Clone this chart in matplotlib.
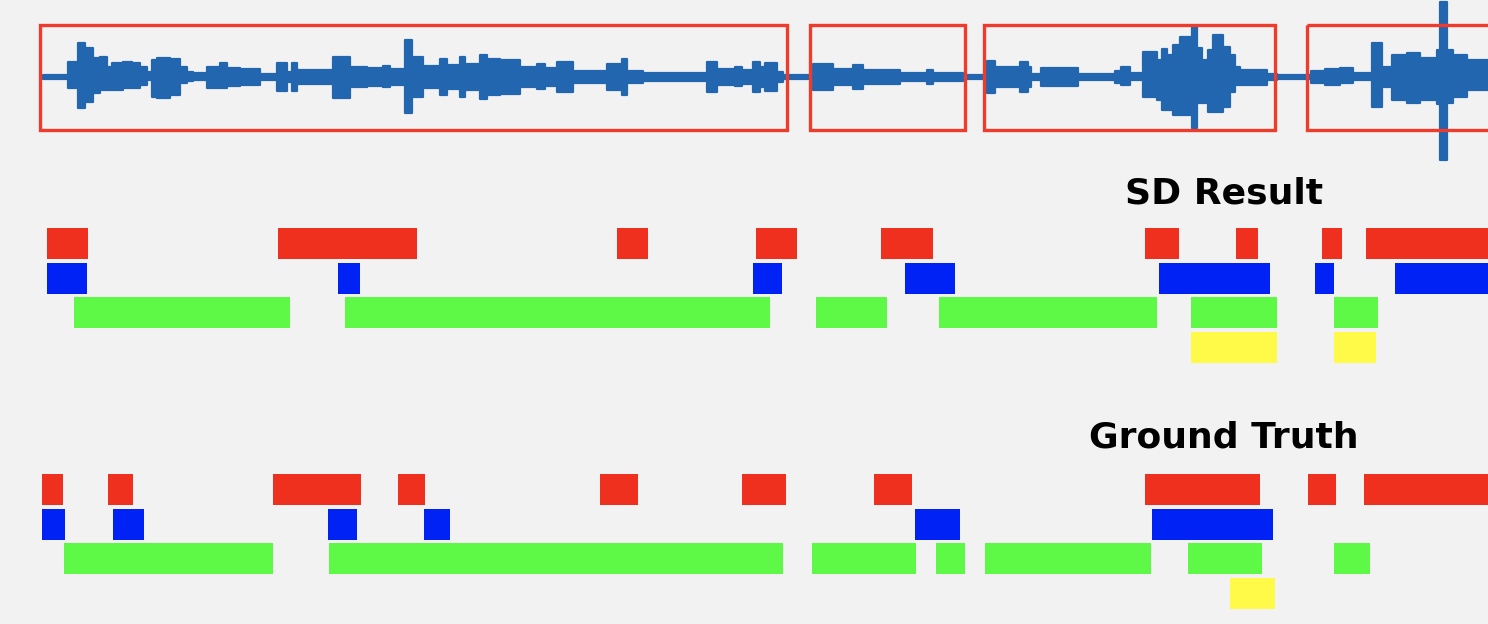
import numpy as np
import matplotlib
matplotlib.use('Agg')
import matplotlib.pyplot as plt
from matplotlib.patches import Rectangle

# time in seconds, whole picture spans 0 .. 14.88 s
# waveform envelope as plateaus: start time, upper amp, lower amp
wave_t = [0.43, 0.68, 0.78, 0.85, 0.93, 1.00, 1.07, 1.12, 1.23, 1.32, 1.40, 1.47, 1.52, 1.57,
          1.70, 1.80, 1.87, 1.93, 2.07, 2.20, 2.27, 2.40, 2.60, 2.77, 2.87, 2.92, 2.97, 3.33,
          3.50, 3.67, 3.83, 3.90, 4.05, 4.12, 4.23, 4.40, 4.47, 4.60, 4.65, 4.80, 4.87, 5.00,
          5.20, 5.37, 5.45, 5.57, 5.73, 6.07, 6.22, 6.27, 6.43, 7.07, 7.17, 7.35, 7.42, 7.53,
          7.60, 7.65, 7.77, 7.83, 8.13, 8.33, 8.53, 8.63, 9.00, 9.27, 9.33, 9.63, 9.87, 9.95,
          10.20, 10.28, 10.31, 10.41, 10.78, 11.15, 11.21, 11.30, 11.43, 11.57, 11.62, 11.67,
          11.73, 11.80, 11.92, 11.97, 12.02, 12.08, 12.13, 12.23, 12.30, 12.35, 12.40, 12.67,
          12.77, 13.11, 13.25, 13.40, 13.53, 13.72, 13.82, 13.92, 14.07, 14.20, 14.37, 14.40,
          14.47, 14.53, 14.67, 14.88]
wave_up = [2, 15, 34, 29, 19, 20, 10, 14, 15, 14, 10, 5, 17, 19,
           18, 10, 5, 4, 10, 14, 9, 8, 3, 14, 5, 14, 7, 20,
           10, 9, 11, 8, 37, 20, 11, 18, 12, 20, 13, 22, 18, 17,
           10, 13, 9, 15, 6, 13, 18, 6, 4, 15, 8, 10, 7, 15,
           10, 14, 5, 2, 13, 8, 12, 7, 4, 7, 4, 2, 16, 10,
           15, 10, 3, 9, 3, 6, 10, 4, 25, 17, 28, 22,
           32, 40, 50, 29, 17, 27, 42, 30, 22, 10, 7, 3,
           2, 6, 8, 9, 4, 34, 10, 22, 24, 19, 27, 75,
           27, 22, 17, 17]
wave_dn = [2, 11, 31, 25, 16, 13, 13, 13, 11, 11, 8, 3, 20, 21,
           18, 6, 4, 3, 11, 11, 9, 8, 3, 14, 5, 14, 7, 21,
           10, 9, 10, 8, 36, 20, 11, 18, 12, 20, 13, 22, 18, 17,
           10, 12, 9, 15, 6, 13, 18, 6, 4, 15, 8, 9, 7, 15,
           10, 14, 5, 2, 13, 8, 12, 7, 4, 7, 4, 2, 16, 10,
           15, 10, 3, 9, 3, 6, 8, 3, 20, 23, 33, 33,
           38, 38, 51, 26, 26, 35, 35, 30, 15, 8, 8, 3,
           2, 6, 8, 6, 3, 30, 10, 23, 26, 23, 27, 83,
           26, 20, 13, 13]

# detected speech segments (red boxes on the waveform)
speech_segs = [(0.40, 7.87), (8.10, 9.65), (9.84, 12.75), (13.07, 15.20)]

# speaker rows: SD result
sd_red = [(0.47, 0.88), (2.78, 4.17), (6.17, 6.48), (7.56, 7.97), (8.81, 9.33),
          (11.45, 11.79), (12.36, 12.58), (13.22, 13.42), (13.66, 15.00)]
sd_blue = [(0.47, 0.87), (3.38, 3.60), (7.53, 7.82), (9.05, 9.55), (11.59, 12.70),
           (13.15, 13.34), (13.95, 15.00)]
sd_green = [(0.74, 2.90), (3.45, 7.70), (8.16, 8.87), (9.39, 11.57), (11.91, 12.77),
            (13.34, 13.78)]
sd_yellow = [(11.91, 12.77), (13.34, 13.76)]

# speaker rows: ground truth
gt_red = [(0.42, 0.63), (1.08, 1.33), (2.73, 3.61), (3.98, 4.25), (6.00, 6.38),
          (7.42, 7.86), (8.74, 9.12), (11.45, 12.60), (13.08, 13.36), (13.64, 15.00)]
gt_blue = [(0.42, 0.65), (1.13, 1.44), (3.28, 3.57), (4.24, 4.50), (9.15, 9.60),
           (11.52, 12.73)]
gt_green = [(0.64, 2.73), (3.29, 7.83), (8.12, 9.16), (9.36, 9.65), (9.85, 11.51),
            (11.88, 12.62), (13.34, 13.70)]
gt_yellow = [(12.30, 12.75)]

colors = ['#f0301f', '#0022f5', '#5ef946', '#fffa48']
wave_col = '#2166ae'
bg = '#f2f2f2'

fig = plt.figure(figsize=(14.88, 6.24), dpi=100, facecolor=bg)
ax = fig.add_axes([0, 0, 1, 1])
ax.set_facecolor(bg)
ax.set_xlim(0, 14.88)
ax.set_ylim(624, 0)   # vertical layout in pixel units
ax.axis('off')

# waveform
yc = 77
ax.fill_between(wave_t, yc - np.array(wave_up), yc + np.array(wave_dn), step='post',
                facecolor=wave_col, edgecolor=wave_col, lw=1.6, joinstyle='round', zorder=2)
ax.plot([wave_t[0], wave_t[-1]], [yc, yc], color=wave_col, lw=2.4, zorder=2)

for s, e in speech_segs:
    ax.add_patch(Rectangle((s, 25), e - s, 105, fill=False, ec='#ee3b2c',
                           lw=2.4, zorder=3))

def draw_rows(rows, top):
    for i, segs in enumerate(rows):
        if not segs:
            continue
        ax.broken_barh([(s, e - s) for s, e in segs], (top + i * 34.6, 31),
                       facecolors=colors[i], zorder=2)

draw_rows([sd_red, sd_blue, sd_green, sd_yellow], 228)
draw_rows([gt_red, gt_blue, gt_green, gt_yellow], 474)

ax.text(12.24, 193, 'SD Result', ha='center', va='center',
        fontsize=26, fontweight='bold', color='black')
ax.text(12.24, 438, 'Ground Truth', ha='center', va='center',
        fontsize=26, fontweight='bold', color='black')

fig.savefig('out.png', dpi=100, facecolor=bg)
